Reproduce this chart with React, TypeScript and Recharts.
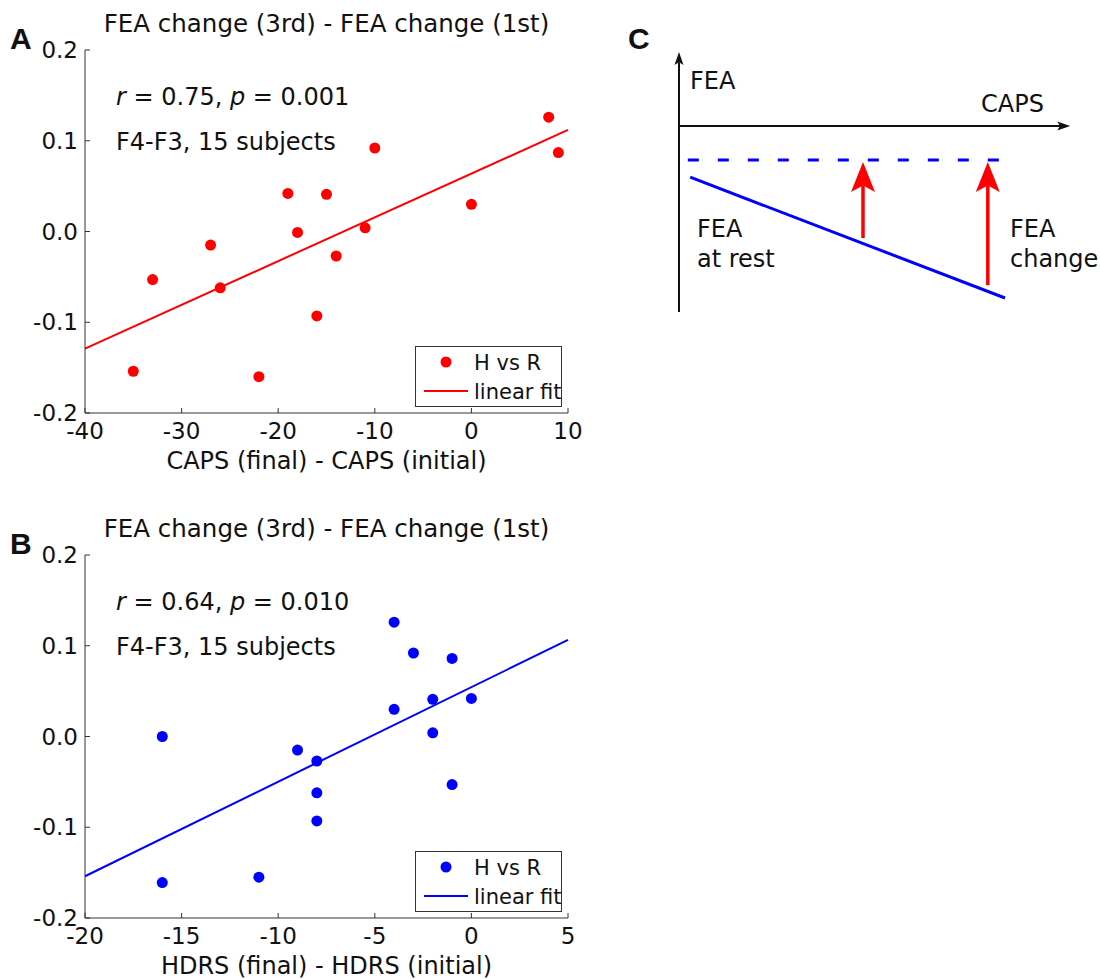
import React from 'react';
import {
  ComposedChart,
  LineChart,
  Scatter,
  Line,
  XAxis,
  YAxis,
  Legend,
  ReferenceLine,
} from 'recharts';

const FONT = '"DejaVu Sans", "Liberation Sans", sans-serif';
const INK = '#111';
const AXIS = '#333';

// y values: FEA change (3rd) - FEA change (1st)
const yTicks = [-0.2, -0.1, 0, 0.1, 0.2];

// panel A: CAPS
const capsChange = [-35, -33, -27, -26, -22, -19, -18, -16, -15, -14, -11, -10, 0, 8, 9];
const feaVsCaps = [-0.154, -0.053, -0.015, -0.062, -0.16, 0.042, -0.001, -0.093, 0.041, -0.027, 0.004, 0.092, 0.03, 0.126, 0.087];
const capsTicks = [-40, -30, -20, -10, 0, 10];
const capsFitX = [-40, 10];
const capsFitY = [-0.129, 0.112];

// panel B: HDRS
const hdrsChange = [-16, -16, -11, -9, -8, -8, -8, -4, -4, -3, -2, -2, -1, -1, 0];
const feaVsHdrs = [0.0, -0.161, -0.155, -0.015, -0.027, -0.062, -0.093, 0.126, 0.03, 0.092, 0.041, 0.004, 0.086, -0.053, 0.042];
const hdrsTicks = [-20, -15, -10, -5, 0, 5];
const hdrsFitX = [-20, 5];
const hdrsFitY = [-0.154, 0.1065];

// panel C: schematic (arbitrary units)
const axisEndX = 9.78;
const axisYRange = [-4.65, 1.85];
const restX = [0.28, 8.15];
const restY = [-1.28, -4.3];
const targetX = [0.22, 8.2];
const targetY = [-0.85, -0.85];
const arrowX = [4.6, 7.72];
const arrowFromY = [-2.8, -3.98];
const arrowToY = -0.9;

const arrowShape = (color: string, width: number, headLen: number, headHalf: number) => (props: any) => {
  const { x1, y1, x2, y2 } = props;
  const dx = x2 - x1;
  const dy = y2 - y1;
  const len = Math.hypot(dx, dy) || 1;
  const ux = dx / len;
  const uy = dy / len;
  const nx = -uy;
  const ny = ux;
  const bx = x2 - ux * headLen;
  const by = y2 - uy * headLen;
  const mx = x2 - ux * headLen * 0.78;
  const my = y2 - uy * headLen * 0.78;
  return (
    <g>
      <line x1={x1} y1={y1} x2={mx} y2={my} stroke={color} strokeWidth={width} />
      <polygon
        points={`${x2},${y2} ${bx + nx * headHalf},${by + ny * headHalf} ${mx},${my} ${bx - nx * headHalf},${by - ny * headHalf}`}
        fill={color}
      />
    </g>
  );
};

interface PanelProps {
  top: number;
  letter: string;
  xs: number[];
  ys: number[];
  fitX: number[];
  fitY: number[];
  color: string;
  xTicks: number[];
  xLabel: string;
  r: string;
  p: string;
}

function ScatterPanel({ top, letter, xs, ys, fitX, fitY, color, xTicks, xLabel, r, p }: PanelProps) {
  const points = xs.map((x, i) => ({ x, y: ys[i] }));
  const fit = fitX.map((x, i) => ({ x, y: fitY[i] }));
  const xDomain = [xTicks[0], xTicks[xTicks.length - 1]];
  const tickStyle = { fill: INK, fontSize: 23, fontFamily: FONT };

  const LegendBox = () => (
    <svg width={147} height={61} style={{ display: 'block' }}>
      <rect x={0.5} y={0.5} width={146} height={60} fill="#fff" stroke={AXIS} strokeWidth={1} />
      <circle cx={31} cy={16} r={5.5} fill={color} />
      <text x={59} y={23.7} fontSize={21} fontFamily={FONT} fill={INK}>H vs R</text>
      <line x1={9} y1={45} x2={53} y2={45} stroke={color} strokeWidth={2} />
      <text x={59} y={52.7} fontSize={21} fontFamily={FONT} fill={INK}>linear fit</text>
    </svg>
  );

  return (
    <div style={{ position: 'absolute', left: 0, top, width: 600, height: 480 }}>
      <ComposedChart width={600} height={480} margin={{ top: 50, right: 32, bottom: 0, left: 25 }}>
        <XAxis
          xAxisId="b"
          type="number"
          dataKey="x"
          domain={xDomain}
          ticks={xTicks}
          interval={0}
          height={67}
          tickSize={-5}
          tickMargin={15}
          stroke={AXIS}
          tick={tickStyle}
          label={{ value: xLabel, position: 'insideBottom', offset: 11, fill: INK, fontSize: 24, fontFamily: FONT }}
        />
        <XAxis
          xAxisId="t"
          orientation="top"
          type="number"
          domain={xDomain}
          ticks={xTicks}
          interval={0}
          height={0}
          tickSize={-5}
          tick={false}
          stroke={AXIS}
        />
        <YAxis
          yAxisId="l"
          type="number"
          dataKey="y"
          domain={[-0.2, 0.2]}
          ticks={yTicks}
          interval={0}
          width={60}
          tickSize={-5}
          tickMargin={12}
          stroke={AXIS}
          tick={tickStyle}
          tickFormatter={(v: number) => v.toFixed(1)}
        />
        <YAxis
          yAxisId="r"
          orientation="right"
          type="number"
          domain={[-0.2, 0.2]}
          ticks={yTicks}
          interval={0}
          width={0}
          tickSize={-5}
          tick={false}
          stroke={AXIS}
        />
        <Line
          xAxisId="b"
          yAxisId="l"
          data={fit}
          dataKey="y"
          type="linear"
          stroke={color}
          strokeWidth={2}
          dot={false}
          activeDot={false}
          isAnimationActive={false}
        />
        <Scatter
          xAxisId="b"
          yAxisId="l"
          data={points}
          fill={color}
          isAnimationActive={false}
          shape={(s: any) => <circle cx={s.cx} cy={s.cy} r={5.5} fill={color} />}
        />
        <Legend
          layout="horizontal"
          verticalAlign="middle"
          align="center"
          width={147}
          height={61}
          wrapperStyle={{ left: 415, top: 346, width: 147, height: 61 }}
          content={() => <LegendBox />}
        />
      </ComposedChart>
      <div style={{ position: 'absolute', left: 10, top: 24, font: 'bold 30px "Liberation Sans", sans-serif', lineHeight: '30px' }}>
        {letter}
      </div>
      <div style={{ position: 'absolute', left: 85, width: 483, top: 12, textAlign: 'center', fontSize: 24.5, lineHeight: '24px', whiteSpace: 'nowrap' }}>
        FEA change (3rd) - FEA change (1st)
      </div>
      <div style={{ position: 'absolute', left: 116, top: 85, fontSize: 24, lineHeight: '24px', whiteSpace: 'nowrap' }}>
        <i>r</i> = {r}, <i>p</i> = {p}
      </div>
      <div style={{ position: 'absolute', left: 116, top: 129.5, fontSize: 24, lineHeight: '24px', whiteSpace: 'nowrap' }}>
        F4-F3, 15 subjects
      </div>
    </div>
  );
}

function Schematic() {
  const rest = restX.map((x, i) => ({ x, y: restY[i] }));
  const target = targetX.map((x, i) => ({ x, y: targetY[i] }));
  const blackArrow = arrowShape('#111', 2, 13, 4.5);
  const redArrow = arrowShape('#ff0000', 3.5, 30, 12);
  return (
    <div style={{ position: 'absolute', left: 659, top: 32, width: 440, height: 300 }}>
      <LineChart width={440} height={300} margin={{ top: 20, right: 20, bottom: 20, left: 20 }}>
        <XAxis type="number" dataKey="x" domain={[0, 10]} hide />
        <YAxis type="number" domain={axisYRange} hide />
        <ReferenceLine
          segment={[{ x: 0, y: axisYRange[0] }, { x: 0, y: axisYRange[1] }]}
          ifOverflow="visible"
          shape={blackArrow}
        />
        <ReferenceLine
          segment={[{ x: 0, y: 0 }, { x: axisEndX, y: 0 }]}
          ifOverflow="visible"
          shape={blackArrow}
        />
        <Line
          data={target}
          dataKey="y"
          type="linear"
          stroke="#0000ff"
          strokeWidth={3}
          strokeDasharray="11 19"
          dot={false}
          activeDot={false}
          isAnimationActive={false}
        />
        <Line
          data={rest}
          dataKey="y"
          type="linear"
          stroke="#0000ff"
          strokeWidth={3}
          dot={false}
          activeDot={false}
          isAnimationActive={false}
        />
        {arrowX.map((x, i) => (
          <ReferenceLine
            key={i}
            segment={[{ x, y: arrowFromY[i] }, { x, y: arrowToY }]}
            ifOverflow="visible"
            shape={redArrow}
          />
        ))}
      </LineChart>
    </div>
  );
}

export default function App() {
  const cText = { position: 'absolute' as const, fontSize: 24, lineHeight: '30px', whiteSpace: 'nowrap' as const };
  return (
    <div
      style={{
        position: 'absolute',
        left: 0,
        top: 0,
        width: 1100,
        height: 979,
        background: '#fff',
        fontFamily: FONT,
        color: INK,
        overflow: 'hidden',
      }}
    >
      <ScatterPanel
        top={0}
        letter="A"
        xs={capsChange}
        ys={feaVsCaps}
        fitX={capsFitX}
        fitY={capsFitY}
        color="#ff0000"
        xTicks={capsTicks}
        xLabel="CAPS (final) - CAPS (initial)"
        r="0.75"
        p="0.001"
      />
      <ScatterPanel
        top={505}
        letter="B"
        xs={hdrsChange}
        ys={feaVsHdrs}
        fitX={hdrsFitX}
        fitY={hdrsFitY}
        color="#0000ff"
        xTicks={hdrsTicks}
        xLabel="HDRS (final) - HDRS (initial)"
        r="0.64"
        p="0.010"
      />
      <Schematic />
      <div style={{ position: 'absolute', left: 628, top: 24, font: 'bold 30px "Liberation Sans", sans-serif', lineHeight: '30px' }}>
        C
      </div>
      <div style={{ ...cText, left: 690, top: 66 }}>FEA</div>
      <div style={{ ...cText, left: 981, top: 89 }}>CAPS</div>
      <div style={{ ...cText, left: 697, top: 214 }}>
        FEA
        <br />
        at rest
      </div>
      <div style={{ ...cText, left: 1010, top: 214 }}>
        FEA
        <br />
        change
      </div>
    </div>
  );
}
